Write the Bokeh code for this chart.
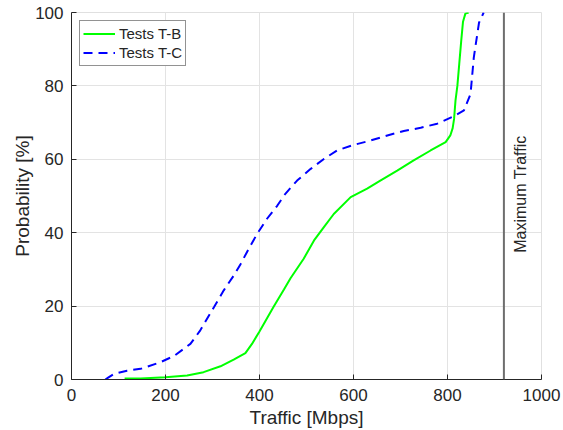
import math
from bokeh.plotting import figure
from bokeh.models import Span, Legend, LegendItem, FixedTicker, Range1d
from bokeh.core.properties import value
from bokeh.embed import file_html
from bokeh.resources import INLINE

# Data (Traffic in Mbps, cumulative probability in %)
tb_traffic = [113, 147, 200, 246, 281, 317, 345, 370, 384, 399, 413, 430, 452, 466, 494, 516,
              537, 558, 594, 629, 657, 693, 728, 764, 796, 806, 811, 814, 817, 821, 825, 829,
              833, 838, 845]
tb_prob = [0.3, 0.3, 0.6, 1.1, 2.0, 3.6, 5.4, 7.2, 9.7, 12.9, 16.0, 19.8, 24.5, 27.6, 32.9, 37.9,
           41.5, 45.1, 49.7, 52.0, 54.2, 56.9, 59.7, 62.4, 64.7, 66.5, 68.5, 71.0, 76.0, 80.0, 86.0, 92.0,
           97.5, 99.7, 100.0]

tc_traffic = [72, 78, 90, 118, 147, 189, 218, 253, 274, 303, 324, 345, 360, 377, 395, 416, 438,
              455, 480, 509, 537, 565, 597, 636, 672, 707, 743, 778, 813, 835, 849, 856, 867, 877]
tc_prob = [0.0, 0.5, 1.5, 2.4, 2.9, 4.7, 6.4, 9.7, 13.4, 19.7, 24.3, 28.3, 31.5, 35.6, 39.7, 43.8, 47.4,
           50.6, 54.2, 57.4, 60.1, 62.4, 63.8, 65.1, 66.5, 67.7, 68.6, 69.7, 71.7, 73.3, 77.8, 87.8, 97.2, 100.0]

max_traffic = 920
max_label = "Maximum Traffic"
series_names = ["Tests T-B", "Tests T-C"]
x_ticks = [0, 200, 400, 600, 800, 1000]
y_ticks = [0, 20, 40, 60, 80, 100]

FONT = "Liberation Sans"
TXT = "#262626"

p = figure(width=563, height=430, output_backend="svg", toolbar_location=None,
           x_range=Range1d(0, 1000), y_range=Range1d(0, 100),
           min_border_left=71, min_border_right=22, min_border_top=12, min_border_bottom=51)
p.background_fill_color = "white"
p.border_fill_color = "white"
p.outline_line_color = "#e0e0e0"

for ax, ticks in ((p.xaxis, x_ticks), (p.yaxis, y_ticks)):
    ax.ticker = FixedTicker(ticks=ticks)
    ax.major_tick_in = 5
    ax.major_tick_out = 0
    ax.minor_tick_line_color = None
    ax.axis_line_color = TXT
    ax.major_tick_line_color = TXT
    ax.major_label_text_font = FONT
    ax.major_label_text_font_size = "17px"
    ax.major_label_text_color = TXT
    ax.axis_label_text_font = FONT
    ax.axis_label_text_font_size = "19px"
    ax.axis_label_text_font_style = "normal"
    ax.axis_label_text_color = TXT

p.xaxis.axis_label = "Traffic [Mbps]"
p.yaxis.axis_label = "Probability [%]"
p.xaxis.major_label_standoff = 9
p.xaxis.axis_label_standoff = 3
p.yaxis.major_label_standoff = 8
p.yaxis.axis_label_standoff = -1

p.grid.grid_line_color = "#e3e3e3"
p.grid.grid_line_width = 1

r1 = p.line(tb_traffic, tb_prob, line_color="#00ff00", line_width=2)
r2 = p.line(tc_traffic, tc_prob, line_color="#0000ff", line_width=2, line_dash="9 6")

span = Span(location=max_traffic, dimension="height", line_color="#6e6e6e", line_width=2)
p.add_layout(span)

p.text(x=[max_traffic], y=[50.5], text=[max_label], angle=math.pi / 2,
       text_align="center", text_baseline="middle", x_offset=17,
       text_font=value(FONT), text_font_size="16px", text_color=TXT)

legend = Legend(items=[LegendItem(label=series_names[0], renderers=[r1]),
                       LegendItem(label=series_names[1], renderers=[r2])],
                location="top_left")
legend.margin = 8
legend.padding = 3
legend.spacing = 0
legend.glyph_width = 32
legend.glyph_height = 19
legend.label_height = 19
legend.label_standoff = 4
legend.label_text_font = FONT
legend.label_text_font_size = "15px"
legend.label_text_color = TXT
legend.border_line_color = TXT
legend.border_line_width = 1
legend.background_fill_color = "white"
legend.background_fill_alpha = 1.0
p.add_layout(legend)

open("out.html", "w").write(file_html(p, INLINE))
